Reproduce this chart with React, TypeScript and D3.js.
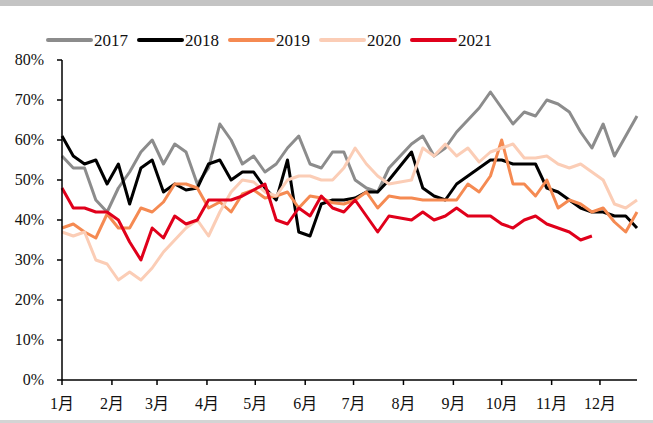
import React from "react";
import * as d3 from "d3";

type TSeries = {
  name: string;
  color: string;
  values: number[];
};

// weekly values (%), first week = 1 Jan
const v2017 = [56, 53, 53, 45, 42, 48, 52, 57, 60, 54, 59, 57, 49, 53, 64, 60, 54, 56, 52, 54, 58, 61, 54, 53, 57, 57, 50, 48, 47, 53, 56, 59, 61, 56, 58, 62, 65, 68, 72, 68, 64, 67, 66, 70, 69, 67, 62, 58, 64, 56, 61, 66];
const v2018 = [61, 56, 54, 55, 49, 54, 44, 53, 55, 47, 49, 47.5, 48, 54, 55, 50, 52, 52, 48, 45, 55, 37, 36, 44, 45, 45, 45.5, 47, 47, 50, 53.5, 57, 48, 46, 45, 49, 51, 53, 55, 55, 54, 54, 54, 48, 47, 45, 43, 42, 42, 41, 41, 38];
const v2019 = [38, 39, 37, 35.5, 41.5, 38, 38, 43, 42, 44.5, 49, 49, 48, 43, 44.5, 42, 46.5, 47.5, 45.5, 46, 47, 43, 46, 45.5, 44.3, 44, 45, 47, 43, 46, 45.5, 45.5, 45, 45, 45, 45, 49, 47, 51, 60, 49, 49, 46, 50, 43, 45, 44, 42, 43, 39.5, 37, 42];
const v2020 = [37, 36, 37, 30, 29, 25, 27, 25, 28, 32, 35, 38, 40, 36, 42, 47, 50, 49.5, 47, 46, 50, 51, 51, 50, 50, 53, 58, 54, 51, 49, 49.5, 50, 58, 56, 59, 56, 58, 54.5, 57, 58, 59, 55.5, 55.5, 56, 54, 53, 54, 52, 50, 44, 43, 45];
const v2021 = [48, 43, 43, 42, 42, 40, 34.5, 30, 38, 35.5, 41, 39, 40, 45, 45, 45, 46, 47.5, 49, 40, 39, 43, 41, 46, 43, 42, 45, 41, 37, 41, 40.5, 40, 42, 40, 41, 43, 41, 41, 41, 39, 38, 40, 41, 39, 38, 37, 35, 36];

const yTicks = [0, 10, 20, 30, 40, 50, 60, 70, 80];

const series: TSeries[] = [
  { name: "2017", color: "#8c8c8c", values: v2017 },
  { name: "2018", color: "#000000", values: v2018 },
  { name: "2019", color: "#f58a52", values: v2019 },
  { name: "2020", color: "#fbcdb6", values: v2020 },
  { name: "2021", color: "#e0001b", values: v2021 },
];

const width = 653;
const height = 423;
const margin = { left: 62, right: 16, top: 60, bottom: 43 };

const weekDate = (i: number) => new Date(Date.UTC(2021, 0, 1 + i * 7));

const x = d3
  .scaleUtc()
  .domain([weekDate(0), weekDate(v2017.length - 1)])
  .range([margin.left, width - margin.right]);

const y = d3
  .scaleLinear()
  .domain([0, 80])
  .range([height - margin.bottom, margin.top]);

const monthTicks = d3.utcMonth.range(weekDate(0), d3.utcDay.offset(weekDate(v2017.length - 1), 1));

const line = d3
  .line<number>()
  .x((_, i) => x(weekDate(i)))
  .y((d) => y(d));

const font = '"Liberation Serif", "Times New Roman", "Noto Sans CJK SC", serif';

const App = () => {
  const x0 = margin.left;
  const x1 = width - margin.right;
  const yBase = y(0);
  return (
    <svg
      width={width}
      height={height}
      style={{ position: "absolute", left: 0, top: 0, background: "#fff" }}
    >
      <rect x={0} y={0} width={width} height={6} fill="#c4c4c4" />
      <rect x={0} y={420} width={width} height={3} fill="#d4d4d4" />

      {/* legend */}
      {series.map((s, i) => {
        const lx = 48 + i * 91;
        return (
          <g key={s.name}>
            <line x1={lx} x2={lx + 43} y1={40} y2={40} stroke={s.color} strokeWidth={4} strokeLinecap="round" />
            <text x={lx + 46} y={46} fontFamily={font} fontSize={17} fill="#111">
              {s.name}
            </text>
          </g>
        );
      })}

      {/* lines */}
      {series.map((s) => (
        <path
          key={s.name}
          d={line(s.values) || ""}
          fill="none"
          stroke={s.color}
          strokeWidth={3}
          strokeLinejoin="round"
        />
      ))}

      {/* y axis */}
      <line x1={x0} x2={x0} y1={y(80)} y2={yBase} stroke="#000" strokeWidth={1.5} />
      {yTicks.map((t) => (
        <g key={t}>
          <line x1={x0 - 5} x2={x0} y1={y(t)} y2={y(t)} stroke="#000" strokeWidth={1.5} />
          <text x={x0 - 18} y={y(t) + 5} textAnchor="end" fontFamily={font} fontSize={16} fill="#111">
            {t}%
          </text>
        </g>
      ))}

      {/* x axis */}
      <line x1={x0} x2={x1} y1={yBase} y2={yBase} stroke="#000" strokeWidth={1.5} />
      {monthTicks.map((m) => (
        <g key={m.getTime()}>
          <line x1={x(m)} x2={x(m)} y1={yBase} y2={yBase + 5} stroke="#000" strokeWidth={1.5} />
          <text x={x(m)} y={yBase + 29} textAnchor="middle" fontFamily={font} fontSize={16} fill="#111">
            {m.getUTCMonth() + 1}月
          </text>
        </g>
      ))}
    </svg>
  );
};

export default App;
